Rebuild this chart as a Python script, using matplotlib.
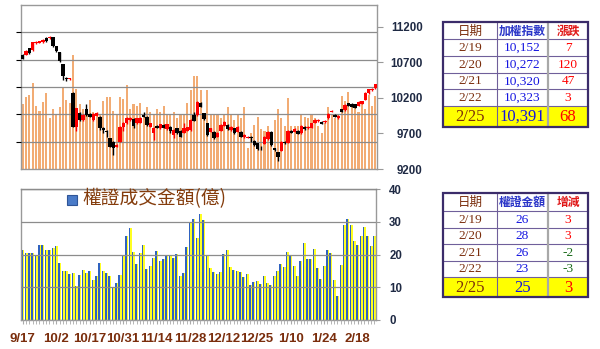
import numpy as np
import matplotlib
matplotlib.use("Agg")
import matplotlib.pyplot as plt
from matplotlib.patches import Rectangle

plt.rcParams['font.family'] = ['Liberation Sans', 'Noto Sans CJK TC', 'DejaVu Sans']

# ---------------- data ----------------
tick_labels = ['9/17', '10/2', '10/17', '10/31', '11/14', '11/28',
               '12/12', '12/25', '1/10', '1/24', '2/18']
tick_idx = [0, 10, 20, 30, 40, 50, 60, 70, 80, 90, 100]

# market turnover (億), orange bars in the upper panel
mkt_volume = [1180, 1320, 1350, 1580, 1160, 1070, 1230, 1390, 930, 1090,
              990, 1130, 1490, 1270, 1210, 2090, 1470, 1180, 1090, 1010,
              1270, 1040, 980, 980, 1250, 1320, 1320, 1070, 990, 1310,
              1280, 1530, 1090, 1190, 1150, 1200, 1000, 1130, 1050, 1000,
              1100, 1050, 1150, 980, 980, 1050, 930, 980, 1000, 1200,
              1450, 1700, 1700, 1450, 1000, 1450, 1000, 1000, 980, 930,
              1000, 1130, 980, 900, 980, 930, 1130, 380, 650, 800,
              950, 730, 690, 780, 600, 900, 1090, 930, 780, 1290,
              780, 780, 780, 990, 960, 930, 980, 930, 780, 660,
              840, 1130, 990, 930, 990, 1340, 1240, 1400, 1150, 1120,
              1050, 1240, 1090, 1360, 1160, 1340]

# TAIEX daily candles
opens = [10805, 10805, 10894, 10866, 10966, 10975, 10985, 11040, 11040, 11055,
         10922, 10838, 10674, 10486, 10462, 10275, 9796, 9984, 9890, 10040,
         9980, 9890, 9950, 9930, 9780, 9740, 9632, 9585, 9514, 9585,
         9796, 9843, 9890, 9900, 9840, 9850, 9960, 9937, 9796, 9711,
         9805, 9773, 9819, 9760, 9796, 9679, 9773, 9735, 9711, 9740,
         9749, 9960, 9960, 10125, 9984, 9843, 9726, 9726, 9655, 9740,
         9805, 9819, 9749, 9773, 9726, 9726, 9650, 9640, 9655, 9600,
         9561, 9500, 9552, 9620, 9726, 9491, 9435, 9458, 9585, 9570,
         9740, 9726, 9735, 9702, 9796, 9773, 9782, 9852, 9871, 9866,
         9857, 9913, 10002, 9960, 9913, 10040, 10030, 10125, 10115, 10110,
         10087, 10115, 10171, 10265, 10310, 10335]
closes = [10749, 10861, 10828, 10983, 10990, 10995, 11020, 11000, 11060, 10922,
          10855, 10711, 10509, 10460, 10476, 9796, 10054, 9890, 9960, 9960,
          9937, 9975, 9990, 9773, 9749, 9720, 9514, 9491, 9538, 9796,
          9852, 9913, 9913, 9805, 9913, 9913, 9937, 9819, 9843, 9782,
          9780, 9829, 9782, 9829, 9735, 9749, 9702, 9655, 9773, 9785,
          9890, 9880, 10148, 10078, 9900, 9679, 9773, 9632, 9711, 9819,
          9866, 9760, 9796, 9702, 9796, 9655, 9679, 9655, 9632, 9540,
          9477, 9490, 9655, 9726, 9538, 9467, 9374, 9585, 9561, 9740,
          9711, 9758, 9693, 9805, 9760, 9796, 9843, 9890, 9890, 9834,
          9880, 9974, 10021, 9937, 9946, 10002, 10101, 10087, 10078, 10063,
          10145, 10152, 10272, 10320, 10323, 10391]
highs = [10820, 10870, 10900, 10990, 11000, 11005, 11030, 11050, 11068, 11062,
         10930, 10845, 10680, 10495, 10485, 10280, 10060, 9995, 9970, 10115,
         9990, 9985, 10000, 9940, 9790, 9750, 9640, 9595, 9550, 9805,
         9860, 9925, 9925, 9910, 9920, 9925, 10005, 9945, 9850, 9790,
         9815, 9835, 9828, 9838, 9805, 9758, 9780, 9742, 9852, 9792,
         9898, 9995, 10155, 10135, 9992, 9850, 9782, 9735, 9720, 9828,
         9875, 9828, 9805, 9782, 9805, 9735, 9688, 9662, 9662, 9610,
         9570, 9520, 9665, 9735, 9735, 9500, 9445, 9592, 9592, 9748,
         9750, 9780, 9742, 9812, 9805, 9805, 9850, 9898, 9898, 9875,
         9888, 9982, 10030, 9968, 9955, 10048, 10108, 10132, 10122, 10118,
         10152, 10160, 10280, 10328, 10332, 10398]
lows = [10740, 10800, 10820, 10860, 10955, 10965, 10975, 10990, 11030, 10915,
        10845, 10700, 10453, 10430, 10455, 9790, 9740, 9880, 9880, 9950,
        9925, 9880, 9940, 9750, 9700, 9650, 9505, 9397, 9505, 9575,
        9740, 9835, 9880, 9780, 9830, 9840, 9930, 9810, 9790, 9608,
        9770, 9765, 9775, 9752, 9700, 9632, 9695, 9645, 9705, 9732,
        9740, 9870, 9950, 10070, 9890, 9670, 9718, 9622, 9648, 9732,
        9798, 9752, 9740, 9694, 9718, 9645, 9642, 9632, 9585, 9530,
        9465, 9470, 9545, 9612, 9530, 9455, 9313, 9450, 9552, 9562,
        9700, 9718, 9685, 9695, 9752, 9765, 9775, 9845, 9862, 9826,
        9850, 9905, 9995, 9928, 9905, 9995, 10022, 10080, 10070, 10055,
        10080, 10108, 10165, 10258, 10302, 10328]

# warrant turnover (億), lower panel
warrant_amt = [21.3, 20.5, 20.6, 20.6, 20.0, 23.0, 22.8, 21.3, 21.3, 22.1,
               22.6, 17.5, 15.1, 14.9, 14.1, 14.2, 10.4, 13.8, 15.4, 14.4,
               15.1, 12.3, 13.3, 17.3, 14.9, 14.4, 13.4, 10.2, 11.2, 13.8,
               19.9, 25.8, 28.1, 20.7, 17.0, 20.6, 22.8, 15.7, 16.6, 18.8,
               21.2, 17.9, 18.6, 19.9, 19.4, 18.9, 20.3, 13.3, 14.4, 22.4,
               30.0, 30.7, 24.9, 32.5, 30.4, 19.9, 15.8, 14.6, 14.1, 14.7,
               20.3, 21.3, 16.2, 15.4, 14.9, 14.6, 13.2, 14.1, 10.6, 11.6,
               12.0, 11.0, 13.5, 11.3, 10.6, 13.5, 15.0, 17.2, 16.2, 20.7,
               19.4, 16.4, 13.5, 18.1, 23.5, 18.6, 18.6, 21.7, 15.8, 12.6,
               16.4, 21.3, 20.6, 12.3, 7.4, 16.8, 29.0, 30.9, 29.0, 24.2,
               23.0, 25.7, 28.3, 25.8, 22.7, 25.5]

# side tables
tbl_dates = ['2/19', '2/20', '2/21', '2/22', '2/25']
tbl_index = ['10,152', '10,272', '10,320', '10,323', '10,391']
tbl_index_chg = ['7', '120', '47', '3', '68']
tbl_amt = ['26', '28', '26', '23', '25']
tbl_amt_chg = ['3', '3', '-2', '-3', '3']

x = np.arange(len(closes))
o = np.array(opens)
c = np.array(closes)

fig = plt.figure(figsize=(6, 3.49), dpi=100)
W, H = 600, 349


def fig_rect(x0, y0, x1, y1):
    return [x0 / W, 1 - y1 / H, (x1 - x0) / W, (y1 - y0) / H]


grid_c = '#8c8c8c'
axis_lbl_c = '#1f2a44'
date_c = '#7a2d0c'

# ---------------- upper panel ----------------
ax = fig.add_axes(fig_rect(21, 5, 377, 169))
ax.bar(x, mkt_volume, width=0.62, color='#f2ac74', zorder=1)
ax.set_ylim(0, 3000)
ax.set_yticks(range(500, 3000, 500))
ax.yaxis.grid(True, color=grid_c, lw=0.9)
ax.set_axisbelow(False)
ax.tick_params(left=False, labelleft=False, bottom=False, labelbottom=False)
for s in ax.spines.values():
    s.set_color('#999999')
    s.set_linewidth(1)
ax.set_xlim(-0.5, len(x) - 0.5)

ax2 = ax.twinx()
up = c >= o
cols = np.where(up, '#ff0000', '#000000')
ax2.vlines(x, lows, highs, colors=cols, lw=1.0, zorder=3)
body_lo = np.minimum(o, c)
body_h = np.maximum(np.abs(c - o), 12)
ax2.bar(x, body_h, bottom=body_lo, width=1.0, color=cols, zorder=4)
ax2.set_ylim(9200, 11505)
ax2.set_yticks(range(9200, 11201, 500))
ax2.tick_params(axis='y', direction='out', length=4, color='#999999',
                labelsize=8.3, labelcolor=axis_lbl_c, pad=28.8)
for lbl in ax2.get_yticklabels():
    lbl.set_fontweight('bold')
    lbl.set_horizontalalignment('right')
for s in ax2.spines.values():
    s.set_visible(False)

# ---------------- lower panel ----------------
axb = fig.add_axes(fig_rect(21, 189, 376, 320))
axb.bar(x + 0.27, warrant_amt, width=0.48, color='#ffff22', zorder=1)
axb.bar(x - 0.17, warrant_amt, width=0.44, color='#2f62c0', zorder=2)
axb.set_xlim(-0.5, len(x) - 0.5)
axb.set_ylim(0, 40)
axb.set_yticks(range(0, 41, 10))
axb.yaxis.tick_right()
axb.yaxis.grid(True, color=grid_c, lw=0.9)
axb.set_axisbelow(False)
axb.tick_params(axis='y', direction='out', length=3, color='#999999',
                labelsize=8.3, labelcolor=axis_lbl_c, pad=6.5)
for lbl in axb.get_yticklabels():
    lbl.set_fontweight('bold')
axb.set_xticks(tick_idx)
axb.set_xticklabels(tick_labels, fontsize=9.5, fontweight='bold', color=date_c)
axb.set_xticks(x, minor=True)
axb.tick_params(axis='x', which='both', direction='out', length=3,
                color='#aaaaaa', pad=6.3)
for s in axb.spines.values():
    s.set_color('#999999')
    s.set_linewidth(1)
axb.spines['top'].set_color('#777777')

# legend (real text)
fig.patches.append(Rectangle((67 / W, 1 - 205 / H), 10 / W, 10 / H,
                             transform=fig.transFigure, facecolor='#4a7bc8',
                             edgecolor='#2f5597', lw=0.8))
fig.text(82 / W, 1 - 199 / H, '權證成交金額(億)', fontsize=13.5,
         color='#843c0c', va='center', ha='left',
         family=['Noto Sans CJK TC', 'DejaVu Sans'])

# ---------------- tables ----------------
ov = fig.add_axes([0, 0, 1, 1])
ov.set_xlim(0, W)
ov.set_ylim(H, 0)
ov.axis('off')

col_edges = [443, 497, 548, 588]
serif = ['Liberation Serif', 'DejaVu Serif']
cjk = ['Noto Sans CJK TC', 'DejaVu Sans']


def draw_table(top, header_h, row_h, last_h, headers, col2, col3, col2_color, col3_colors):
    n = len(tbl_dates)
    bottom = top + header_h + row_h * (n - 1) + last_h
    ytop_last = top + header_h + row_h * (n - 1)
    ov.add_patch(Rectangle((col_edges[0], ytop_last), col_edges[-1] - col_edges[0],
                           last_h, facecolor='#ffff00', edgecolor='none', zorder=1))
    for k in range(n):
        yy = top + header_h + row_h * k
        ov.plot([col_edges[0], col_edges[-1]], [yy, yy], color='#6f5f9a', lw=0.8, zorder=2)
    ov.plot([col_edges[1], col_edges[1]], [top, bottom], color='#6f5f9a', lw=0.8, zorder=2)
    ov.plot([col_edges[2], col_edges[2]], [top, bottom], color='#a8a8a8', lw=1.6, zorder=2)
    ov.add_patch(Rectangle((col_edges[0], top), col_edges[-1] - col_edges[0], bottom - top,
                           facecolor='none', edgecolor='#3b2c6a', lw=1.6, zorder=3))
    cx = [(col_edges[i] + col_edges[i + 1]) / 2 for i in range(3)]
    hcols = [date_c, '#2a35c8', '#e01818']
    for i, h in enumerate(headers):
        ov.text(cx[i], top + header_h / 2 + 0.5, h, ha='center', va='center',
                fontsize=9 if i == 0 else 8.5, color=hcols[i], family=cjk,
                fontweight='bold' if i > 0 else 'normal')
    for k in range(n):
        if k < n - 1:
            yc = top + header_h + row_h * k + row_h / 2 + 0.5
            fs = 9.6
        else:
            yc = ytop_last + last_h / 2 + 0.5
            fs = 12
        ov.text(cx[0], yc, tbl_dates[k], ha='center', va='center', fontsize=fs,
                color=date_c, family=serif)
        ov.text(cx[1], yc, col2[k], ha='center', va='center', fontsize=fs,
                color=col2_color, family=serif)
        ov.text(cx[2], yc, col3[k], ha='center', va='center', fontsize=fs,
                color=col3_colors[k], family=serif)


chg_colors = ['#ff0000' if not v.startswith('-') else '#1a6b1a' for v in tbl_index_chg]
draw_table(22, 17, 16.75, 21, ['日期', '加權指數', '漲跌'],
           tbl_index, tbl_index_chg, '#1414e0', chg_colors)
amt_colors = ['#ff0000' if not v.startswith('-') else '#1a6b1a' for v in tbl_amt_chg]
draw_table(193, 18, 16.5, 20, ['日期', '權證金額', '增減'],
           tbl_amt, tbl_amt_chg, '#1414e0', amt_colors)

fig.savefig('out.png', dpi=100)
